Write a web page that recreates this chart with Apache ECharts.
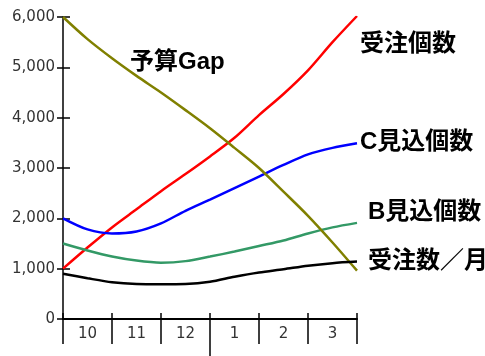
<!DOCTYPE html>
<html>
<head>
<meta charset="utf-8">
<script src="https://cdn.jsdelivr.net/npm/echarts@6/dist/echarts.min.js"></script>
<style>
  html, body { margin: 0; padding: 0; background: #fff; }
  #chart { width: 485px; height: 356px; }
</style>
</head>
<body>
<div id="chart"></div>
<script>
// Months on the category axis (Oct – Mar)
var months = ['10', '11', '12', '1', '2', '3'];
// Sample positions along the period, in months from the start of October
var steps = [0, 0.5, 1, 1.5, 2, 2.5, 3, 3.5, 4, 4.5, 5, 5.5, 6];

// Series values at each sample position
var juchuKosu   = [1000, 1420, 1820, 2180, 2540, 2880, 3230, 3600, 4050, 4470, 4940, 5500, 6020];
var yosanGap    = [6000, 5560, 5180, 4830, 4500, 4150, 3790, 3400, 3000, 2530, 2050, 1520, 960];
var cMikomi     = [2000, 1780, 1700, 1740, 1900, 2150, 2370, 2600, 2830, 3060, 3270, 3400, 3490];
var bMikomi     = [1500, 1360, 1240, 1160, 1120, 1150, 1240, 1340, 1450, 1560, 1700, 1820, 1910];
var juchuTsuki  = [900, 810, 730, 695, 690, 695, 740, 840, 925, 990, 1060, 1110, 1140];

// Y-axis range
var yMin = 0, yMax = 6000, yStep = 1000;

function pairs(vals) {
  return vals.map(function (v, i) { return [steps[i], v]; });
}

var chart = echarts.init(document.getElementById('chart'));

var grid = { left: 63, right: 128, top: 17, bottom: 37 };
var labelFont = { fontFamily: 'DejaVu Sans', fontSize: 15, color: '#333' };

function line(name, vals, color) {
  return {
    name: name, type: 'line', xAxisIndex: 3, yAxisIndex: 0,
    data: pairs(vals), smooth: 0.3, symbol: 'none',
    lineStyle: { color: color, width: 2.5 }, silent: true
  };
}

var titleStyle = {
  fontFamily: '"Liberation Sans", "Noto Sans CJK JP", sans-serif', fontWeight: 'bold',
  fontSize: 24, fill: '#000'
};
function tag(text, x, y) {
  return { type: 'text', left: x, top: y, style: Object.assign({ text: text }, titleStyle) };
}

chart.setOption({
  animation: false,
  grid: grid,
  xAxis: [
    { // month labels with ticks below the axis line
      type: 'category', data: months, boundaryGap: true, position: 'bottom',
      axisLine: { lineStyle: { color: '#000', width: 2 } },
      axisTick: { show: true, length: 25, inside: false, lineStyle: { color: '#000', width: 1.5 } },
      axisLabel: Object.assign({ margin: 8 }, labelFont),
      splitLine: { show: false }
    },
    { // short ticks above the axis line
      type: 'category', data: months, boundaryGap: true, position: 'bottom',
      axisLine: { show: false },
      axisTick: { show: true, length: 6, inside: true, lineStyle: { color: '#000', width: 1.5 } },
      axisLabel: { show: false }, splitLine: { show: false }
    },
    { // year boundary between December and January
      type: 'value', min: 0, max: 6, position: 'bottom',
      axisLine: { show: false },
      axisTick: { show: true, length: 37, inside: false, customValues: [3],
        lineStyle: { color: '#000', width: 1.5 } },
      axisLabel: { show: false }, splitLine: { show: false }
    },
    { // continuous scale the lines are plotted on
      type: 'value', min: 0, max: 6, show: false
    }
  ],
  yAxis: [
    {
      type: 'value', min: yMin, max: yMax, interval: yStep,
      axisLine: { show: true, lineStyle: { color: '#000', width: 1.5 } },
      axisTick: { show: true, length: 6, inside: false, lineStyle: { color: '#000', width: 1.5 } },
      axisLabel: Object.assign({
        margin: 8,
        formatter: function (v) { return v.toLocaleString('en-US'); }
      }, labelFont),
      splitLine: { show: false }
    },
    {
      type: 'value', min: yMin, max: yMax, interval: yStep, position: 'left',
      axisLine: { show: false },
      axisTick: { show: true, length: 7, inside: true, lineStyle: { color: '#000', width: 1.5 } },
      axisLabel: { show: false }, splitLine: { show: false }
    }
  ],
  series: [
    line('受注個数', juchuKosu, '#ff0000'),
    line('C見込個数', cMikomi, '#0000ff'),
    line('B見込個数', bMikomi, '#339966'),
    line('予算Gap', yosanGap, '#808000'),
    line('受注数／月', juchuTsuki, '#000000')
  ],
  graphic: [
    tag('予算Gap', 130, 50),
    tag('受注個数', 360, 32),
    tag('C見込個数', 360, 130),
    tag('B見込個数', 368, 200),
    tag('受注数／月', 368, 249)
  ]
});
</script>
</body>
</html>
